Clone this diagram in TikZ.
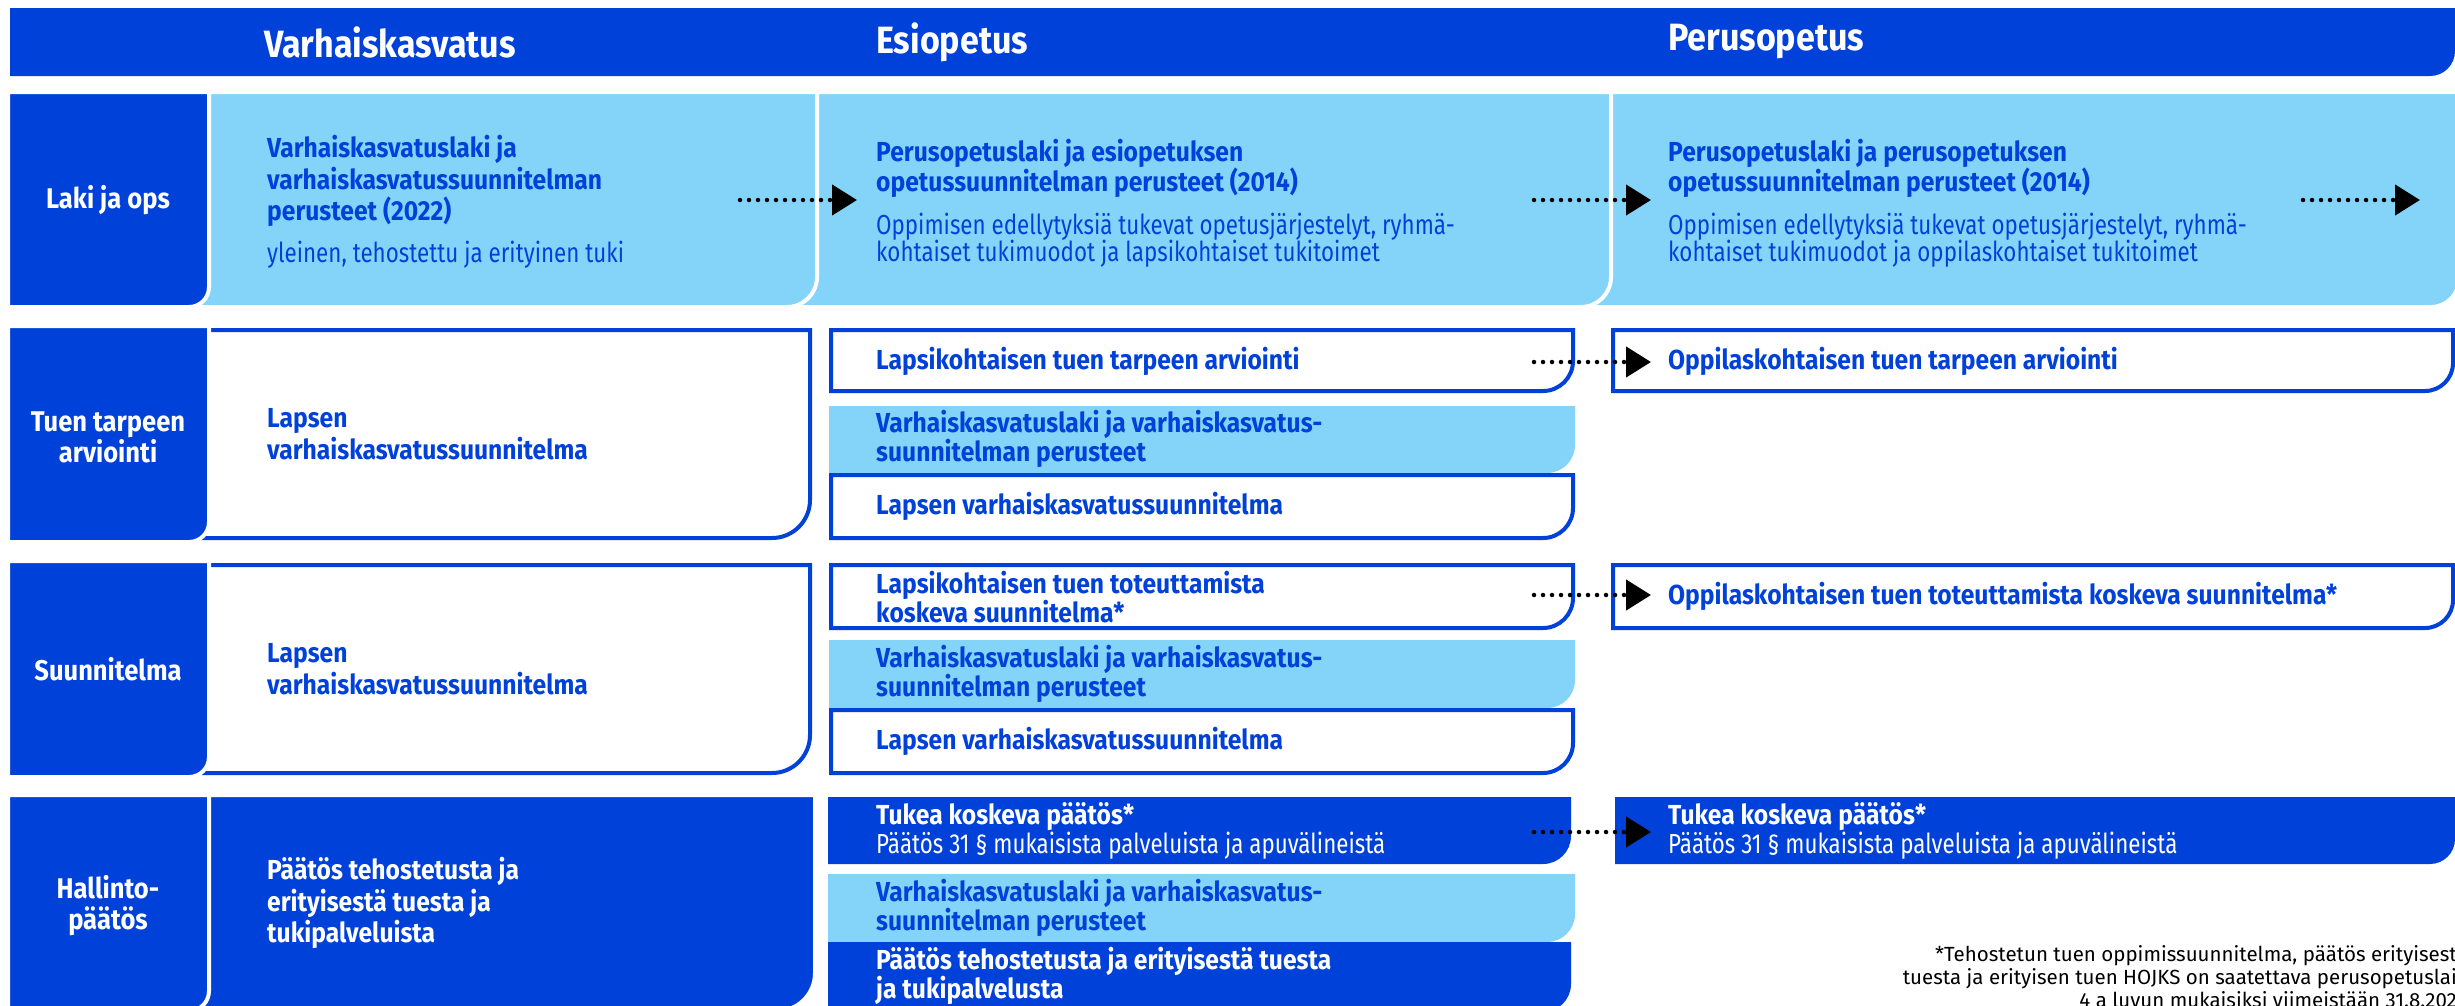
\documentclass[tikz,border=0pt]{standalone}
\usepackage{fontspec}
\setmainfont{Fira Sans}[FakeStretch=0.896]
\newfontfamily\regfont{Fira Sans}[FakeStretch=0.813]
\newfontfamily\notefont{Fira Sans}
\usepackage{tikz}
\usetikzlibrary{arrows.meta}

\definecolor{okblue}{RGB}{0,66,217}
\definecolor{okpale}{RGB}{132,212,250}

\newcommand\regtext[1]{{\regfont\mdseries #1}}
% box with one rounded corner (bottom right): style, x1, y1, x2, y2, radius
\newcommand\cbox[6]{\path[#1] (#2,#3) -- (#4,#3) -- (#4,#5-#6) arc[start angle=0, end angle=90, radius=#6] -- (#2,#5) -- cycle;}

\begin{document}
\begin{tikzpicture}[x=1pt, y=-1pt, every node/.style={inner sep=0pt},
  lblbox/.style={fill=okblue, draw=white, line width=4pt},
  palebox/.style={fill=okpale, draw=white, line width=4pt},
  darkbox/.style={fill=okblue, draw=white, line width=4pt},
  linebox/.style={fill=white, draw=okblue, line width=4pt},
  palesub/.style={fill=okpale},
  darksub/.style={fill=okblue},
  hdtext/.style={anchor=west, text=white, font=\fontsize{38}{42}\selectfont\bfseries},
  lbltext/.style={align=center, text=white, font=\fontsize{28.5}{31}\selectfont\bfseries},
  bodytext/.style={anchor=west, align=left, text=okblue, font=\fontsize{27.5}{31.5}\selectfont\bfseries},
  subtext/.style={bodytext, font=\fontsize{27.5}{27}\selectfont\bfseries},
  dotarrow/.style={line width=4.5pt, dash pattern=on 0pt off 9pt, line cap=round,
    -{Triangle[length=25pt, width=30pt]}}]

\useasboundingbox (0,0) rectangle (2455,1005);
\clip (0,0) rectangle (2455,1005);

% Header bar
\cbox{fill=okblue}{10}{8}{2455}{76}{25}
\node[hdtext] (hvarh) at (264,42) {Varhaiskasvatus};
\node[hdtext] (hesi) at (876,42) {Esiopetus};
\node[hdtext] (hperus) at (1668,42) {Perusopetus};

% Row 1: Laki ja ops
\cbox{palebox}{1575}{92}{2459}{307}{28}
\cbox{palebox}{780}{92}{1611}{307}{30}
\cbox{palebox}{180}{92}{817}{307}{30}
\cbox{lblbox}{8}{92}{209}{307}{20}
\node[lbltext] (lblA) at (108,200) {Laki ja ops};
\node[bodytext] (vlaki) at (267,202) {Varhaiskasvatuslaki ja\\varhaiskasvatussuunnitelman\\perusteet (2022)\\[10.5pt]\regtext{yleinen, tehostettu ja erityinen tuki}};
\node[bodytext, font=\fontsize{27.5}{30}\selectfont\bfseries] (elaki) at (876,203) {Perusopetuslaki ja esiopetuksen\\opetussuunnitelman perusteet (2014)\\[13pt]\regtext{Oppimisen edellytyksiä tukevat opetusjärjestelyt, ryhmä-}\\[-3pt]\regtext{kohtaiset tukimuodot ja lapsikohtaiset tukitoimet}};
\node[bodytext, font=\fontsize{27.5}{30}\selectfont\bfseries] (plaki) at (1668,203) {Perusopetuslaki ja perusopetuksen\\opetussuunnitelman perusteet (2014)\\[13pt]\regtext{Oppimisen edellytyksiä tukevat opetusjärjestelyt, ryhmä-}\\[-3pt]\regtext{kohtaiset tukimuodot ja oppilaskohtaiset tukitoimet}};

% Row 2: Tuen tarpeen arviointi
\cbox{linebox}{180}{330}{810}{538}{38}
\cbox{lblbox}{8}{326}{209}{542}{20}
\node[lbltext] (lblB) at (108,437) {Tuen tarpeen\\arviointi};
\node[bodytext, font=\fontsize{27.5}{32}\selectfont\bfseries] (vtuen) at (267,434) {Lapsen\\varhaiskasvatussuunnitelma};
\cbox{linebox}{831}{330}{1573}{391}{30}
\cbox{palesub}{829}{406}{1575}{473}{28}
\cbox{linebox}{831}{475}{1573}{538}{30}
\cbox{linebox}{1613}{330}{2453}{391}{28}
\node[subtext] (etarve) at (876,361) {Lapsikohtaisen tuen tarpeen arviointi};
\node[subtext] (eperA) at (876,439) {Varhaiskasvatuslaki ja varhaiskasvatus-\\suunnitelman perusteet};
\node[subtext] (evasuA) at (876,506) {Lapsen varhaiskasvatussuunnitelma};
\node[subtext] (ptarve) at (1668,361) {Oppilaskohtaisen tuen tarpeen arviointi};

% Row 3: Suunnitelma
\cbox{linebox}{180}{565}{810}{773}{38}
\cbox{lblbox}{8}{561}{209}{777}{20}
\node[lbltext] (lblC) at (108,669) {Suunnitelma};
\node[bodytext, font=\fontsize{27.5}{32}\selectfont\bfseries] (vsuunn) at (267,669) {Lapsen\\varhaiskasvatussuunnitelma};
\cbox{linebox}{831}{565}{1573}{628}{30}
\cbox{palesub}{829}{640}{1575}{708}{28}
\cbox{linebox}{831}{710}{1573}{773}{30}
\cbox{linebox}{1613}{565}{2453}{628}{28}
\node[subtext] (etoteut) at (876,597) {Lapsikohtaisen tuen toteuttamista\\koskeva suunnitelma*};
\node[subtext] (eperB) at (876,674) {Varhaiskasvatuslaki ja varhaiskasvatus-\\suunnitelman perusteet};
\node[subtext] (evasuB) at (876,741) {Lapsen varhaiskasvatussuunnitelma};
\node[subtext] (ptoteut) at (1668,596) {Oppilaskohtaisen tuen toteuttamista koskeva suunnitelma*};

% Row 4: Hallintopaatos
\cbox{darkbox}{180}{795}{815}{1011}{38}
\cbox{lblbox}{8}{795}{209}{1011}{20}
\node[lbltext] (lblD) at (108,906) {Hallinto-\\päätös};
\node[bodytext, text=white] (vpaatos) at (267,903) {Päätös tehostetusta ja\\erityisestä tuesta ja\\tukipalveluista};
\cbox{darksub}{828}{797}{1571}{864}{28}
\cbox{palesub}{828}{874}{1575}{942}{28}
\cbox{darksub}{828}{942}{1571}{1012}{28}
\cbox{darksub}{1615}{797}{2455}{864}{25}
\node[subtext, text=white] (etukea) at (876,831) {Tukea koskeva päätös*\\\regtext{Päätös 31 § mukaisista palveluista ja apuvälineistä}};
\node[subtext] (eperC) at (876,908) {Varhaiskasvatuslaki ja varhaiskasvatus-\\suunnitelman perusteet};
\node[subtext, text=white] (epaatos) at (876,976) {Päätös tehostetusta ja erityisestä tuesta\\ja tukipalvelusta};
\node[subtext, text=white] (ptukea) at (1668,831) {Tukea koskeva päätös*\\\regtext{Päätös 31 § mukaisista palveluista ja apuvälineistä}};

% Footnote
\node[anchor=east, align=right, text=black, font=\notefont\fontsize{20.5}{23}\selectfont] (note) at (2457,977) {*Tehostetun tuen oppimissuunnitelma, päätös erityisest\\tuesta ja erityisen tuen HOJKS on saatettava perusopetuslai\\4 a luvun mukaisiksi viimeistään 31.8.202};

% Dotted arrows
\coordinate (ar1s) at (740,200);
\coordinate (ar1e) at (857,200);
\coordinate (ar2s) at (1534,200);
\coordinate (ar2e) at (1651,200);
\coordinate (ar3s) at (2303,200);
\coordinate (ar3e) at (2420,200);
\coordinate (ar4s) at (1534,362);
\coordinate (ar4e) at (1651,362);
\coordinate (ar5s) at (1534,595);
\coordinate (ar5e) at (1651,595);
\coordinate (ar6s) at (1534,832);
\coordinate (ar6e) at (1651,832);
\draw[dotarrow] (ar1s) -- (ar1e);
\draw[dotarrow] (ar2s) -- (ar2e);
\draw[dotarrow] (ar3s) -- (ar3e);
\draw[dotarrow] (ar4s) -- (ar4e);
\draw[dotarrow] (ar5s) -- (ar5e);
\draw[dotarrow] (ar6s) -- (ar6e);

\end{tikzpicture}
\end{document}
